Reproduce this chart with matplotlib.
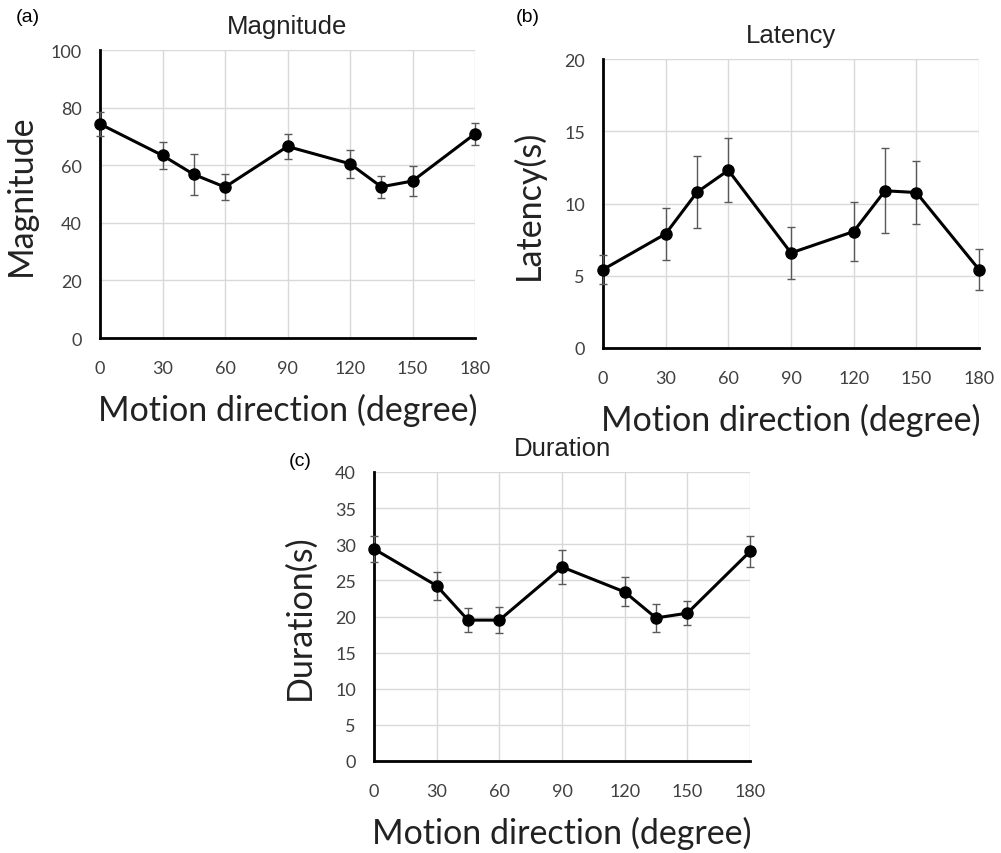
import matplotlib.pyplot as plt

# motion directions (degree)
angles = [0, 30, 45, 60, 90, 120, 135, 150, 180]

magnitude = [74.3, 63.4, 56.8, 52.4, 66.5, 60.5, 52.5, 54.5, 70.9]
magnitude_err = [4.2, 4.8, 7.2, 4.5, 4.4, 4.8, 3.9, 5.1, 3.9]

latency = [5.43, 7.9, 10.78, 12.3, 6.58, 8.06, 10.88, 10.76, 5.43]
latency_err = [1.0, 1.8, 2.5, 2.2, 1.8, 2.05, 2.95, 2.15, 1.45]

duration = [29.35, 24.26, 19.5, 19.5, 26.85, 23.4, 19.8, 20.46, 29.0]
duration_err = [1.85, 1.95, 1.7, 1.85, 2.35, 2.0, 1.95, 1.7, 2.1]

xticks = [0, 30, 60, 90, 120, 150, 180]

W, H = 1001, 854
dpi = 100
fig = plt.figure(figsize=(W / dpi, H / dpi), dpi=dpi)
fig.set_facecolor('white')

tick_font = 'Lato'
title_font = 'Liberation Sans'


def px_axes(x0, y0, x1, y1):
    return fig.add_axes([x0 / W, 1 - y1 / H, (x1 - x0) / W, (y1 - y0) / H])


def panel(ax, y, err, ymax, ystep, title, ylabel, ypad):
    ax.errorbar(angles, y, yerr=err, fmt='none', ecolor='#595959',
                elinewidth=1.0, capsize=3, capthick=1.0, zorder=3, clip_on=False)
    ax.plot(angles, y, color='black', linewidth=2.2, marker='o',
            markersize=8, zorder=4, clip_on=False)
    ax.set_xlim(0, 180)
    ax.set_ylim(0, ymax)
    ax.set_xticks(xticks)
    ax.set_yticks(range(0, ymax + 1, ystep))
    ax.grid(color='#d9d9d9', linewidth=1.0)
    ax.set_axisbelow(True)
    for s in ['top', 'right']:
        ax.spines[s].set_visible(False)
    for s in ['left', 'bottom']:
        ax.spines[s].set_linewidth(2)
        ax.spines[s].set_color('black')
    ax.tick_params(length=0, labelsize=13, colors='#404040')
    ax.tick_params(axis='x', pad=16)
    ax.tick_params(axis='y', pad=13)
    for lab in ax.get_xticklabels() + ax.get_yticklabels():
        lab.set_family(tick_font)
    ax.set_title(title, fontsize=18.5, family=title_font, color='#222222', pad=12)
    ax.set_ylabel(ylabel, fontsize=24.5, family=tick_font, color='#222222',
                  labelpad=ypad)
    ax.set_xlabel('Motion direction (degree)', fontsize=24.5,
                  family=tick_font, color='#222222', labelpad=12)


ax_a = px_axes(100, 51, 475, 339)
panel(ax_a, magnitude, magnitude_err, 100, 20, 'Magnitude', 'Magnitude', 10)
ax_b = px_axes(603, 60, 979, 349)
panel(ax_b, latency, latency_err, 20, 5, 'Latency', 'Latency(s)', 14)
ax_c = px_axes(374, 473, 750, 762)
panel(ax_c, duration, duration_err, 40, 5, 'Duration', 'Duration(s)', 14)

fig.text(28 / W, 1 - 18 / H, '(a)', fontsize=14, family=title_font,
         ha='center', va='center')
fig.text(528 / W, 1 - 18 / H, '(b)', fontsize=14, family=title_font,
         ha='center', va='center')
fig.text(300 / W, 1 - 462 / H, '(c)', fontsize=14, family=title_font,
         ha='center', va='center')

fig.savefig('out.png', dpi=dpi)
